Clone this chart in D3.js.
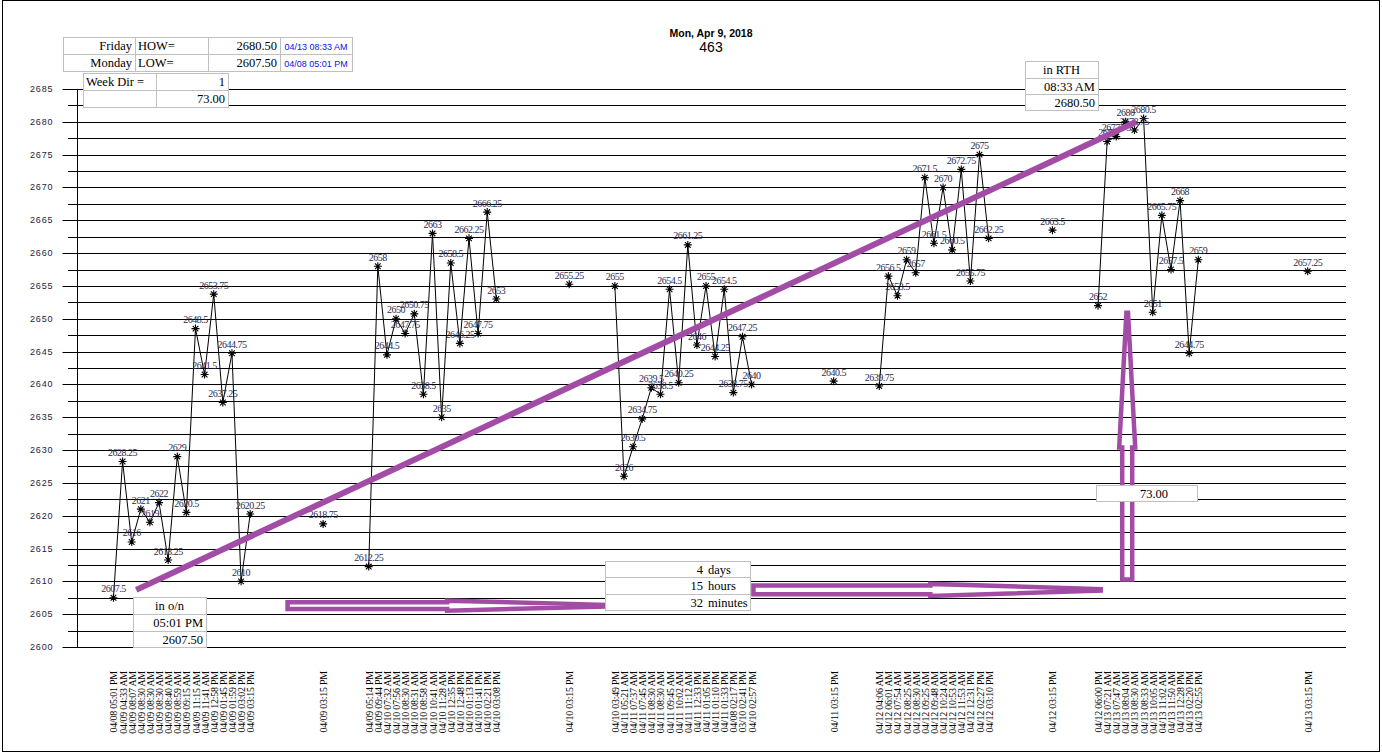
<!DOCTYPE html>
<html>
<head>
<meta charset="utf-8">
<script src="https://cdn.jsdelivr.net/npm/d3@7"></script>
<style>
body { margin: 0; background: #fff; }
svg { display: block; }
</style>
</head>
<body>
<svg id="chart" width="1382" height="754"></svg>
<script>
// ---- data ----
var s1Times = ['04/08 05:01 PM','04/09 04:33 AM','04/09 08:07 AM','04/09 08:30 AM','04/09 08:30 AM','04/09 08:30 AM',
  '04/09 08:40 AM','04/09 08:59 AM','04/09 09:15 AM','04/09 11:15 AM','04/09 11:41 AM','04/09 12:58 PM',
  '04/09 01:45 PM','04/09 01:59 PM','04/09 03:02 PM','04/09 03:15 PM'];
var s1Prices = [2607.5,2628.25,2616,2621,2619,2622,2613.25,2629,2620.5,2648.5,2641.5,2653.75,2637.25,2644.75,2610,2620.25];

var s2Times = ['04/09 05:14 PM','04/09 09:44 PM','04/10 07:32 AM','04/10 07:56 AM','04/10 08:30 AM','04/10 08:31 AM',
  '04/10 08:58 AM','04/10 10:41 AM','04/10 11:28 AM','04/10 12:35 PM','04/10 12:48 PM','04/10 01:13 PM',
  '04/10 01:41 PM','04/10 02:21 PM','04/10 03:08 PM'];
var s2Prices = [2612.25,2658,2644.5,2650,2647.75,2650.75,2638.5,2663,2635,2658.5,2646.25,2662.25,2647.75,2666.25,2653];

var s3Times = ['04/10 03:49 PM','04/11 05:21 AM','04/11 07:37 AM','04/11 07:45 AM','04/11 08:30 AM','04/11 08:30 AM',
  '04/11 09:45 AM','04/11 10:02 AM','04/11 11:12 AM','04/11 12:33 PM','04/11 01:05 PM','04/11 01:10 PM',
  '04/11 01:33 PM','04/08 02:17 PM','03/10 02:41 PM','04/10 02:57 PM'];
var s3Prices = [2655,2626,2630.5,2634.75,2639.5,2638.5,2654.5,2640.25,2661.25,2646,2655,2644.25,2654.5,2638.75,2647.25,2640];

var s4Times = ['04/12 04:06 AM','04/12 06:01 AM','04/12 07:54 AM','04/12 08:25 AM','04/12 08:30 AM','04/12 09:25 AM',
  '04/12 09:48 AM','04/12 10:24 AM','04/12 10:53 AM','04/12 11:53 AM','04/12 12:31 PM','04/12 02:27 PM','04/12 03:10 PM'];
var s4Prices = [2639.75,2656.5,2653.5,2659,2657,2671.5,2661.5,2670,2660.5,2672.75,2655.75,2675,2662.25];

var s5Times = ['04/12 06:00 PM','04/13 07:21 AM','04/13 07:47 AM','04/13 08:04 AM','04/13 08:30 AM','04/13 08:33 AM',
  '04/13 10:05 AM','04/13 11:02 AM','04/13 11:50 AM','04/13 12:28 PM','04/13 02:20 PM','04/13 02:55 PM'];
var s5Prices = [2652,2677,2677.75,2680,2678.75,2680.5,2651,2665.75,2657.5,2668,2644.75,2659];

var settleTimes = ['04/09 03:15 PM','04/10 03:15 PM','04/11 03:15 PM','04/12 03:15 PM','04/13 03:15 PM'];
var settlePrices = [2618.75,2655.25,2640.5,2663.5,2657.25];

// empty categories on the axis after each session / after each settle
var blanksAfterSession = [7,7,8,6,11];
var blanksAfterSettle = [4,4,4,4];

var yTicks = d3.range(2600, 2686, 5);
var yMinor = d3.range(2602.5, 2685, 5);

var title = 'Mon, Apr 9, 2018';
var subTitle = '463';

// ---- build the category slots ----
var sessions = [[s1Times,s1Prices],[s2Times,s2Prices],[s3Times,s3Prices],[s4Times,s4Prices],[s5Times,s5Prices]];
var slots = [];
sessions.forEach(function(s, i){
	s[0].forEach(function(t, j){ slots.push({t: t, v: s[1][j], sess: i}); });
	for (var k = 0; k < blanksAfterSession[i]; k++) slots.push({t: '', v: null});
	slots.push({t: settleTimes[i], v: settlePrices[i], settle: true});
	if (i < blanksAfterSettle.length)
		for (var k2 = 0; k2 < blanksAfterSettle[i]; k2++) slots.push({t: '', v: null});
});
slots.forEach(function(d, i){ d.i = i; });
var pts = slots.filter(function(d){ return d.v !== null; });

// ---- scales ----
var svg = d3.select('#chart');
var x = d3.scaleLinear().domain([-3.45, 135.2]).range([82, 1346]);
var y = d3.scaleLinear().domain([2600, 2685]).range([647, 89]);
var purple = '#a24ca6';
var serif = '"Liberation Serif", "Times New Roman", serif';
var sans = '"Liberation Sans", Arial, sans-serif';

// frame
svg.append('rect').attr('x', 2.5).attr('y', 0.5).attr('width', 1377).attr('height', 751)
	.attr('fill', 'none').attr('stroke', '#000');

// title
svg.append('text').attr('x', 711).attr('y', 36.5).attr('text-anchor', 'middle')
	.style('font', 'bold 10.5px ' + sans).text(title);
svg.append('text').attr('x', 711).attr('y', 52).attr('text-anchor', 'middle')
	.style('font', '14px ' + sans).text(subTitle);

// gridlines
svg.append('g').selectAll('line').data(yMinor).enter().append('line')
	.attr('x1', 68).attr('x2', 1346)
	.attr('y1', function(d){ return Math.round(y(d)) + 0.5; })
	.attr('y2', function(d){ return Math.round(y(d)) + 0.5; })
	.attr('stroke', '#000');
svg.append('g').selectAll('line').data(yTicks).enter().append('line')
	.attr('x1', 77).attr('x2', 1346)
	.attr('y1', function(d){ return Math.round(y(d)) + 0.5; })
	.attr('y2', function(d){ return Math.round(y(d)) + 0.5; })
	.attr('stroke', '#000');

// y axis
var yAxis = svg.append('g').attr('transform', 'translate(77.5,0)')
	.call(d3.axisLeft(y).tickValues(yTicks).tickSize(15).tickPadding(9).tickFormat(d3.format('d')));
yAxis.select('.domain').remove();
yAxis.selectAll('.tick').attr('transform', function(d){ return 'translate(0,' + (Math.round(y(d)) + 0.5) + ')'; });
yAxis.selectAll('text').style('font', '9px ' + sans).style('letter-spacing', '0.9px').attr('fill', '#1c1c3c');
svg.append('line').attr('x1', 77.5).attr('x2', 77.5).attr('y1', y(2685)).attr('y2', y(2600) + 0.5).attr('stroke', '#000');

// x axis (time labels, vertical)
var labelled = slots.filter(function(d){ return d.t !== ''; }).map(function(d){ return d.i; });
var xAxis = svg.append('g').attr('transform', 'translate(0,671)')
	.call(d3.axisBottom(x).tickValues(labelled).tickSize(0)
		.tickFormat(function(i){ return slots[i].t; }));
xAxis.select('.domain').remove();
xAxis.selectAll('text')
	.attr('transform', 'rotate(-90)').attr('x', 0).attr('y', 0).attr('dy', '0.35em')
	.attr('text-anchor', 'end').attr('fill', '#000')
	.style('font', '10px ' + serif).style('letter-spacing', '-0.25px');

// price lines per session
var line = d3.line().x(function(d){ return x(d.i); }).y(function(d){ return y(d.v); });
svg.append('g').selectAll('path').data(d3.range(sessions.length)).enter().append('path')
	.attr('d', function(s){ return line(pts.filter(function(d){ return d.sess === s; })); })
	.attr('fill', 'none').attr('stroke', '#000').attr('stroke-width', 1);

// asterisk markers
var star = { draw: function(ctx, size){
	var r = Math.sqrt(size) / 2;
	[0, Math.PI / 4, Math.PI / 2, 3 * Math.PI / 4].forEach(function(a){
		ctx.moveTo(-r * Math.cos(a), -r * Math.sin(a));
		ctx.lineTo(r * Math.cos(a), r * Math.sin(a));
	});
}};
svg.append('g').selectAll('path').data(pts).enter().append('path')
	.attr('transform', function(d){ return 'translate(' + x(d.i) + ',' + y(d.v) + ')'; })
	.attr('d', d3.symbol(star, 64))
	.attr('fill', 'none').attr('stroke', '#000').attr('stroke-width', 1.1);

// value labels
svg.append('g').selectAll('text').data(pts).enter().append('text')
	.attr('x', function(d){ return x(d.i); })
	.attr('y', function(d){ return y(d.v) - 5.5; })
	.attr('text-anchor', 'middle').attr('fill', '#2a2a4e')
	.style('font', '10px ' + serif).style('letter-spacing', '-0.5px')
	.text(function(d){ return d3.format('')(d.v); });

// ---- purple annotations ----
var low = d3.min(pts, function(d){ return d.v; });
var high = d3.max(pts, function(d){ return d.v; });
svg.append('line')
	.attr('x1', x(2.5)).attr('y1', y(low + 1.2))
	.attr('x2', x(112.2)).attr('y2', y(high - 0.5))
	.attr('stroke', purple).attr('stroke-width', 6);

function hArrow(x0, x1, x2, yc, hb, hh){
	return 'M' + x0 + ',' + (yc - hb) + 'H' + x1 + 'V' + (yc - hh) + 'L' + x2 + ',' + (yc - 0.8)
		+ 'V' + (yc + 0.8) + 'L' + x1 + ',' + (yc + hh) + 'V' + (yc + hb) + 'H' + x0 + 'Z';
}
var arrows = svg.append('g').attr('fill', 'none').attr('stroke', purple).attr('stroke-width', 4.5)
	.attr('stroke-linejoin', 'miter');
arrows.append('path').attr('d', hArrow(x(19.1), x(36.6), x(53.9), y(2606.3), 3.3, 5));
arrows.append('path').attr('d', hArrow(x(70.2), x(89.6), x(108.3), y(2608.7), 4.3, 6));
var vx = x(111.2), vb = y(2610.3), vm = y(2630.4), vt = y(2650.9);
arrows.append('path').attr('d', 'M' + (vx - 5) + ',' + vb + 'V' + vm + 'H' + (vx - 8) + 'L' + (vx - 0.8) + ',' + vt
	+ 'H' + (vx + 0.8) + 'L' + (vx + 8) + ',' + vm + 'H' + (vx + 5) + 'V' + vb + 'Z');

// ---- boxes ----
function box(x0, widths, rowsY, cells){
	var g = svg.append('g');
	var total = d3.sum(widths);
	g.append('rect').attr('x', x0 + 0.5).attr('y', rowsY[0] + 0.5)
		.attr('width', total).attr('height', rowsY[rowsY.length - 1] - rowsY[0])
		.attr('fill', '#fff').attr('stroke', '#c0c0c0');
	rowsY.slice(1, -1).forEach(function(ry){
		g.append('line').attr('x1', x0).attr('x2', x0 + total).attr('y1', ry + 0.5).attr('y2', ry + 0.5).attr('stroke', '#c0c0c0');
	});
	var cx = x0;
	widths.slice(0, -1).forEach(function(w){
		cx += w;
		g.append('line').attr('x1', cx + 0.5).attr('x2', cx + 0.5).attr('y1', rowsY[0]).attr('y2', rowsY[rowsY.length - 1]).attr('stroke', '#c0c0c0');
	});
	cells.forEach(function(c){
		var lx = x0 + d3.sum(widths.slice(0, c.col));
		var w = widths[c.col];
		var tx = c.align === 'end' ? lx + w - 3 : c.align === 'middle' ? lx + w / 2 : lx + 3;
		var ty = (rowsY[c.row] + rowsY[c.row + 1]) / 2 + 4.5;
		g.append('text').attr('x', c.x !== undefined ? c.x : tx).attr('y', ty).attr('text-anchor', c.align)
			.attr('fill', c.color || '#000')
			.style('font', c.font || ('12.5px ' + serif))
			.text(c.text);
	});
}
var blueFont = '9px ' + sans;
box(63, [72, 73, 72, 72], [37, 54, 71], [
	{row: 0, col: 0, align: 'end', text: 'Friday'},
	{row: 0, col: 1, align: 'start', text: 'HOW='},
	{row: 0, col: 2, align: 'end', text: d3.format('.2f')(high)},
	{row: 0, col: 3, align: 'middle', text: '04/13 08:33 AM', color: '#0a14e8', font: blueFont},
	{row: 1, col: 0, align: 'end', text: 'Monday'},
	{row: 1, col: 1, align: 'start', text: 'LOW='},
	{row: 1, col: 2, align: 'end', text: d3.format('.2f')(low)},
	{row: 1, col: 3, align: 'middle', text: '04/08 05:01 PM', color: '#0a14e8', font: blueFont}
]);
box(83, [73, 72], [73, 90, 107], [
	{row: 0, col: 0, align: 'start', text: 'Week Dir ='},
	{row: 0, col: 1, align: 'end', text: '1'},
	{row: 1, col: 1, align: 'end', text: d3.format('.2f')(high - low)}
]);
box(1025, [73], [61, 78, 94, 110], [
	{row: 0, col: 0, align: 'middle', text: 'in RTH'},
	{row: 1, col: 0, align: 'end', text: '08:33 AM'},
	{row: 2, col: 0, align: 'end', text: d3.format('.2f')(high)}
]);
box(133, [73], [597, 614, 631, 647], [
	{row: 0, col: 0, align: 'middle', text: 'in o/n'},
	{row: 1, col: 0, align: 'end', text: '05:01 PM'},
	{row: 2, col: 0, align: 'end', text: d3.format('.2f')(low)}
]);
box(605, [145], [561, 577, 594, 610], [
	{row: 0, col: 0, align: 'end', x: 703, text: '4'},
	{row: 0, col: 0, align: 'start', x: 708, text: 'days'},
	{row: 1, col: 0, align: 'end', x: 703, text: '15'},
	{row: 1, col: 0, align: 'start', x: 708, text: 'hours'},
	{row: 2, col: 0, align: 'end', x: 703, text: '32'},
	{row: 2, col: 0, align: 'start', x: 708, text: 'minutes'}
]);
box(1096, [101], [485, 501], [
	{row: 0, col: 0, align: 'end', x: 1168, text: d3.format('.2f')(high - low)}
]);
</script>
</body>
</html>
